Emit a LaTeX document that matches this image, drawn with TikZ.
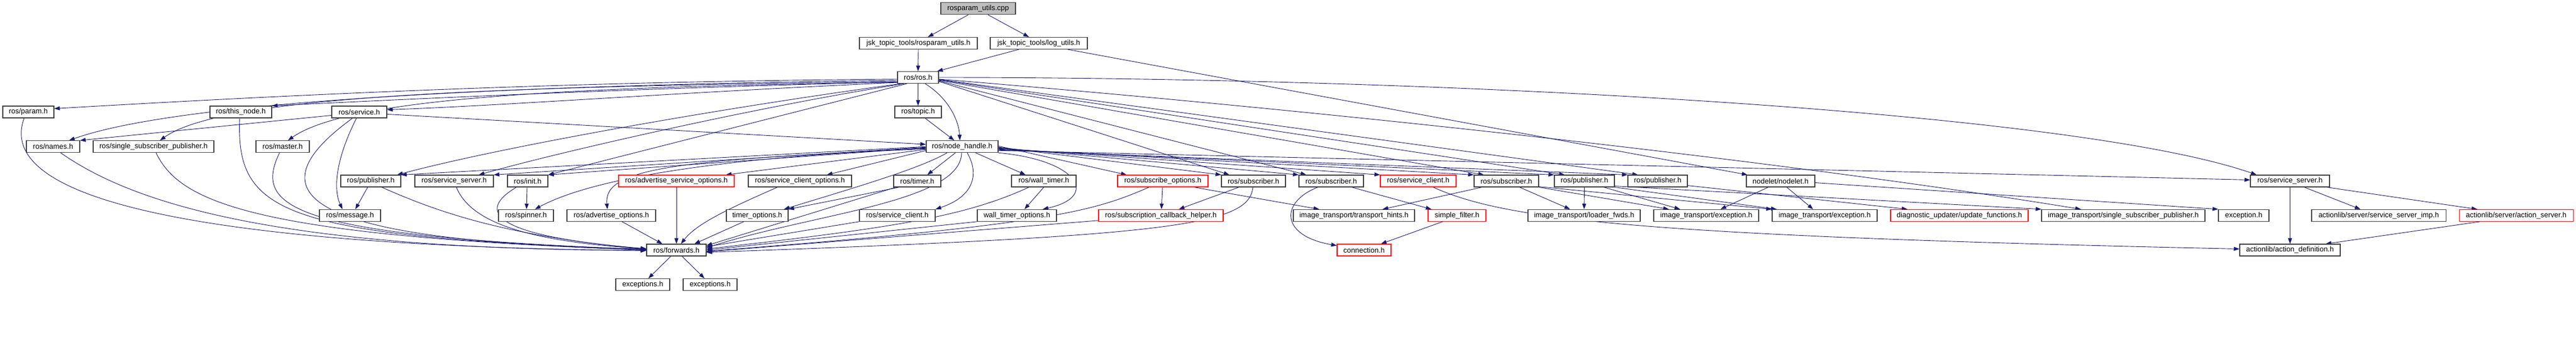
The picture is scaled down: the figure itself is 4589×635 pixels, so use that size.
\documentclass[tikz,border=0pt]{standalone}
\usepackage{fontspec}
\setmainfont{Liberation Sans}
\usetikzlibrary{arrows.meta,backgrounds}
\definecolor{edgec}{HTML}{191970}
\definecolor{boxc}{HTML}{404040}
\definecolor{redc}{HTML}{FF0000}
\definecolor{cppgray}{HTML}{BFBFBF}
\begin{document}
\begin{tikzpicture}[x=1pt,y=-1pt,
  box/.style={draw=boxc, line width=1.1pt, fill=white, minimum height=21pt, inner sep=0pt, font=\fontsize{13}{15}\selectfont, anchor=center},
  redbox/.style={box, draw=redc},
  dep/.style={draw=edgec, line width=0.9pt, -{Triangle[length=10pt,width=7pt]}}]
\useasboundingbox (0,0) rectangle (4589,635);
% row 0-2
\node[box,fill=cppgray,minimum width=133pt] (cpp) at (1742.5,15.3) {rosparam\_utils.cpp};
\node[box,minimum width=210pt] (jru) at (1636,77) {jsk\_topic\_tools/rosparam\_utils.h};
\node[box,minimum width=173pt] (jlu) at (1850.5,77) {jsk\_topic\_tools/log\_utils.h};
\node[box,minimum width=73pt] (ros) at (1635.5,138) {ros/ros.h};
% row 3
\node[box,minimum width=91pt] (param) at (50.5,199.5) {ros/param.h};
\node[box,minimum width=110pt] (thisnode) at (429,199.5) {ros/this\_node.h};
\node[box,minimum width=98pt] (service) at (640,199.5) {ros/service.h};
\node[box,minimum width=83pt] (topic) at (1635.5,199.5) {ros/topic.h};
% row 4
\node[box,minimum width=95pt] (names) at (94.5,261.2) {ros/names.h};
\node[box,minimum width=215pt] (ssp) at (273.5,261.2) {ros/single\_subscriber\_publisher.h};
\node[box,minimum width=95pt] (master) at (503.5,261.2) {ros/master.h};
\node[box,minimum width=128pt] (nh) at (1714,261.2) {ros/node\_handle.h};
% row 5
\node[box,minimum width=107pt] (pub1) at (660.5,322.5) {ros/publisher.h};
\node[box,minimum width=140pt] (ss1) at (809,322.5) {ros/service\_server.h};
\node[box,minimum width=72pt] (init) at (940,322.5) {ros/init.h};
\node[redbox,minimum width=206pt] (aso) at (1205,322.5) {ros/advertise\_service\_options.h};
\node[box,minimum width=184pt] (sco) at (1425,322.5) {ros/service\_client\_options.h};
\node[box,minimum width=84pt] (timer) at (1634,322.5) {ros/timer.h};
\node[box,minimum width=115pt] (wtimer) at (1859.5,322.5) {ros/wall\_timer.h};
\node[redbox,minimum width=161pt] (subopt) at (2071.5,322.5) {ros/subscribe\_options.h};
\node[box,minimum width=114pt] (sub1) at (2233,322.5) {ros/subscriber.h};
\node[box,minimum width=115pt] (sub2) at (2371.5,322.5) {ros/subscriber.h};
\node[redbox,minimum width=135pt] (sc2) at (2526.5,322.5) {ros/service\_client.h};
\node[box,minimum width=115pt] (sub3) at (2683.5,322.5) {ros/subscriber.h};
\node[box,minimum width=107pt] (pub2) at (2822.5,322.5) {ros/publisher.h};
\node[box,minimum width=106pt] (pub3) at (2953,322.5) {ros/publisher.h};
\node[box,minimum width=122pt] (nodelet) at (3172,322.5) {nodelet/nodelet.h};
\node[box,minimum width=141pt] (ss2) at (4079.5,322.5) {ros/service\_server.h};
% row 6
\node[box,minimum width=109pt] (message) at (623.5,383.8) {ros/message.h};
\node[box,minimum width=98pt] (spinner) at (937,383.8) {ros/spinner.h};
\node[box,minimum width=158pt] (advopt) at (1089,383.8) {ros/advertise\_options.h};
\node[box,minimum width=110pt] (topt) at (1349,383.8) {timer\_options.h};
\node[box,minimum width=135pt] (sc1) at (1598.5,383.8) {ros/service\_client.h};
\node[box,minimum width=141pt] (wtopt) at (1811.5,383.8) {wall\_timer\_options.h};
\node[redbox,minimum width=222pt] (sch) at (2068,383.8) {ros/subscription\_callback\_helper.h};
\node[box,minimum width=216pt] (th) at (2412,383.8) {image\_transport/transport\_hints.h};
\node[redbox,minimum width=103pt] (sf) at (2595.5,383.8) {simple\_filter.h};
\node[box,minimum width=200pt] (lf) at (2822,383.8) {image\_transport/loader\_fwds.h};
\node[box,minimum width=187pt] (ie1) at (3039.5,383.8) {image\_transport/exception.h};
\node[box,minimum width=187pt] (ie2) at (3250.5,383.8) {image\_transport/exception.h};
\node[redbox,minimum width=245pt] (uf) at (3490.5,383.8) {diagnostic\_updater/update\_functions.h};
\node[box,minimum width=291pt] (issp) at (3782.5,383.8) {image\_transport/single\_subscriber\_publisher.h};
\node[box,minimum width=90pt] (exc) at (3997,383.8) {exception.h};
\node[box,minimum width=239pt] (ssimp) at (4237.5,383.8) {actionlib/server/service\_server\_imp.h};
\node[redbox,minimum width=203pt] (as) at (4482.5,383.8) {actionlib/server/action\_server.h};
% row 7-8
\node[box,minimum width=106pt] (fwd) at (1205,445.5) {ros/forwards.h};
\node[redbox,minimum width=96pt] (conn) at (2430,445.5) {connection.h};
\node[box,minimum width=179pt] (ad) at (4079.5,445.5) {actionlib/action\_definition.h};
\node[box,minimum width=96pt] (exs1) at (1145,507) {exceptions.h};
\node[box,minimum width=96pt] (exs2) at (1265,507) {exceptions.h};

\begin{pgfonlayer}{background}
% top
\draw[dep] ([xshift=-17.5pt]cpp.south) -- ([xshift=17pt]jru.north);
\draw[dep] ([xshift=17.5pt]cpp.south) -- ([xshift=-17.5pt]jlu.north);
\draw[dep] (jru.south) -- (ros.north);
\draw[dep] ([xshift=-35.5pt]jlu.south) -- ([xshift=34pt]ros.north);
\draw[dep] ([xshift=51.5pt]jlu.south) -- ([xshift=-59pt]nodelet.north);
% ros -> left
\draw[dep] ([yshift=-3pt]ros.west) .. controls (1000,145) and (500,170) .. ([yshift=6pt]param.east);
\draw[dep] ([yshift=-5pt]ros.west) .. controls (900,152) and (320,180) .. ([xshift=28.5pt]names.north);
\draw[dep] ([yshift=-7pt]ros.west) .. controls (900,155) and (400,168) .. ([xshift=11.5pt]ssp.north);
\draw[dep] ([yshift=-8pt]ros.west) .. controls (1100,158) and (700,178) .. (thisnode.north east);
\draw[dep] ([yshift=-9pt]ros.west) .. controls (1200,165) and (900,188) .. ([yshift=4pt]service.east);
\draw[dep] ([yshift=-8.5pt]ros.west) .. controls (1000,155) and (620,175) .. ([xshift=9.5pt]master.north);
\draw[dep] ([xshift=-30pt]ros.south) .. controls (1300,190) and (900,260) .. ([xshift=47pt]pub1.north);
\draw[dep] ([xshift=-25pt]ros.south) .. controls (1350,190) and (1000,270) .. ([xshift=44pt]ss1.north);
\draw[dep] ([xshift=-20pt]ros.south) -- (init.north east);
\draw[dep] (ros.south) -- (topic.north);
\draw[dep] ([xshift=12.5pt]ros.south) .. controls (1690,175) and (1708,215) .. ([xshift=-4pt]nh.north);
\draw[dep] ([xshift=12.5pt]topic.south) -- ([xshift=-14pt]nh.north);
% ros -> right
\draw[dep] (ros.east) .. controls (2600,138) and (3700,200) .. ([xshift=-59.5pt]ss2.north);
\draw[dep] ([yshift=-3pt]ros.east) .. controls (2400,200) and (3200,290) .. ([xshift=-75.5pt]issp.north);
\draw[dep] ([yshift=-7pt]ros.east) -- ([xshift=-43pt]sub1.north);
\draw[dep] ([yshift=-6pt]ros.east) -- ([xshift=-44.5pt]sub2.north);
\draw[dep] ([yshift=-5pt]ros.east) -- ([xshift=-40pt]sub3.north);
\draw[dep] ([yshift=-4pt]ros.east) -- ([xshift=-35pt]pub2.north);
\draw[dep] ([yshift=-3.5pt]ros.east) -- ([xshift=-35pt]pub3.north);
% node_handle -> left
\draw[dep] (nh.west) -- (pub1.north east);
\draw[dep] ([yshift=-1pt]nh.west) -- (ss1.north east);
\draw[dep] ([yshift=-2pt]nh.west) -- (init.north east);
\draw[dep] ([yshift=-3pt]nh.west) .. controls (1300,280) and (1060,315) .. ([xshift=16pt]spinner.north);
\draw[dep] ([yshift=-4pt]nh.west) .. controls (1200,285) and (1075,300) .. ([xshift=-7pt]advopt.north);
\draw[dep] ([yshift=-5pt]nh.west) -- ([xshift=88pt]aso.north);
\draw[dep] ([yshift=-7pt]nh.west) -- ([xshift=48pt]sco.north);
\draw[dep] ([xshift=-27pt]nh.south) .. controls (1640,300) and (1520,335) .. ([xshift=-8pt]topt.north east);
% node_handle -> below
\draw[dep] ([xshift=-12pt]nh.south) -- ([xshift=18pt]timer.north);
\draw[dep] ([xshift=24pt]nh.south) -- ([xshift=-32.5pt]wtimer.north);
\draw[dep] ([xshift=9pt]nh.south) .. controls (1745,310) and (1735,350) .. (sc1.north east);
\draw[dep] ([xshift=-1pt]nh.south) .. controls (1712,360) and (1450,380) .. ([yshift=4pt]fwd.east);
\draw[dep] (nh.south east) .. controls (1920,285) and (1960,350) .. ([xshift=46pt]wtopt.north);
% node_handle -> right
\draw[dep] ([yshift=1pt]nh.east) -- ([xshift=-64.5pt]subopt.north);
\draw[dep] ([yshift=-1pt]nh.east) -- (sub1.north west);
\draw[dep] ([yshift=-2pt]nh.east) -- (sub2.north west);
\draw[dep] ([yshift=-3pt]nh.east) -- (sc2.north west);
\draw[dep] ([yshift=-4pt]nh.east) -- (sub3.north west);
\draw[dep] ([yshift=-5pt]nh.east) -- (pub2.north west);
\draw[dep] ([yshift=-6pt]nh.east) -- (pub3.north west);
\draw[dep] ([yshift=-7pt]nh.east) -- ([yshift=2pt]ss2.west);
% service
\draw[dep] ([xshift=-5pt]service.south) .. controls (595,290) and (595,340) .. ([xshift=-13.5pt]message.north);
\draw[dep] ([xshift=-12pt]service.south) .. controls (450,340) and (520,430) .. ([yshift=2pt]fwd.west);
\draw[dep] ([yshift=-4pt]service.east) -- ([yshift=4pt]nh.west);
\draw[dep] ([yshift=-6pt]service.west) -- (names.north east);
% left side -> forwards
\draw[dep] ([xshift=-7.5pt]param.south) .. controls (-20,380) and (500,440) .. ([yshift=-1pt]fwd.west);
\draw[dep] ([xshift=13.5pt]names.south) .. controls (220,350) and (450,445) .. ([yshift=-0.5pt]fwd.west);
\draw[dep] ([xshift=4.5pt]ssp.south) .. controls (320,360) and (450,420) .. (fwd.west);
\draw[dep] ([xshift=-2pt]thisnode.south) .. controls (420,380) and (500,420) .. ([yshift=0.5pt]fwd.west);
\draw[dep] ([xshift=-5.5pt]master.south) .. controls (450,370) and (520,420) .. ([yshift=1pt]fwd.west);
\draw[dep] ([xshift=-5.5pt]pub1.south) -- ([xshift=9.5pt]message.north);
\draw[dep] ([xshift=19.5pt]pub1.south) .. controls (780,378) and (900,420) .. ([yshift=1.5pt]fwd.west);
\draw[dep] ([xshift=4pt]ss1.south) .. controls (840,400) and (950,430) .. ([yshift=2pt]fwd.west);
\draw[dep] ([xshift=-20pt]init.south) .. controls (850,375) and (870,420) .. ([yshift=2.5pt]fwd.west);
\draw[dep] ([xshift=-1pt]init.south) -- ([xshift=1pt]spinner.north);
\draw[dep] ([xshift=19pt]advopt.south) -- ([xshift=-25pt]fwd.north);
\draw[dep] (aso.south) -- (fwd.north);
\draw[dep] ([xshift=-40pt]sco.south) .. controls (1290,375) and (1240,400) .. ([xshift=8pt]fwd.north);
\draw[dep] ([xshift=-24pt]topt.south) -- ([xshift=32pt]fwd.north);
% right side -> forwards
\draw[dep] ([xshift=-32pt]timer.south) -- (topt.north east);
\draw[dep] ([xshift=-38pt]timer.south) -- ([yshift=8pt]fwd.east);
\draw[dep] (sc1.south west) -- ([yshift=6pt]fwd.east);
\draw[dep] ([xshift=-26.5pt]wtimer.south) .. controls (1720,385) and (1600,405) .. ([yshift=2pt]fwd.east);
\draw[dep] (wtimer.south) -- ([xshift=13.5pt]wtopt.north);
\draw[dep] (wtopt.south west) -- (fwd.east);
\draw[dep] ([xshift=-1pt]sub1.south) .. controls (2225,400) and (2100,420) .. ([yshift=-4pt]fwd.east);
\draw[dep] ([xshift=-24.5pt]subopt.south) .. controls (1950,375) and (1880,400) .. ([yshift=-2pt]fwd.east);
\draw[dep] ([yshift=2pt]sch.south west) -- ([yshift=-3pt]fwd.east);
\draw[dep] ([xshift=-10pt]fwd.south) -- ([xshift=10pt]exs1.north);
\draw[dep] ([xshift=10pt]fwd.south) -- ([xshift=-10pt]exs2.north);
% subscribe side
\draw[dep] ([xshift=-0.5pt]subopt.south) -- ([xshift=1pt]sch.north);
\draw[dep] ([xshift=-26pt]sub1.south) -- ([xshift=32pt]sch.north);
\draw[dep] ([xshift=55.5pt]subopt.south) -- ([xshift=-62pt]th.north);
\draw[dep] ([xshift=-24pt]sub2.south) .. controls (2280,360) and (2280,420) .. ([yshift=8pt]conn.west);
\draw[dep] ([xshift=36.5pt]sub2.south) -- ([xshift=-45.5pt]sf.north);
\draw[dep] ([xshift=-25.5pt]sf.south) -- ([xshift=30pt]conn.north);
\draw[dep] ([xshift=-43.5pt]sub3.south) -- ([xshift=51pt]th.north);
\draw[dep] ([xshift=26.5pt]sc2.south) .. controls (2680,390) and (2900,420) .. ([yshift=2pt]ad.west);
\draw[dep] ([xshift=23.5pt]sub3.south) -- ([xshift=-25pt]lf.north);
\draw[dep] (sub3.south east) -- ([xshift=-66.5pt]ie1.north);
\draw[dep] ([yshift=1pt]sub3.south east) -- (ie2.north west);
\draw[dep] (pub2.south) -- (lf.north);
\draw[dep] ([xshift=34.5pt]pub2.south) -- ([xshift=-46.5pt]ie1.north);
\draw[dep] (pub2.south east) -- ([xshift=-85.5pt]ie2.north);
\draw[dep] ([yshift=2pt]pub2.south east) -- (issp.north west);
\draw[dep] ([yshift=3pt]pub3.south east) -- ([xshift=-92.5pt]uf.north);
\draw[dep] ([xshift=-22pt]nodelet.south) -- ([xshift=25.5pt]ie1.north);
\draw[dep] ([xshift=11pt]nodelet.south) -- ([xshift=-20.5pt]ie2.north);
\draw[dep] ([yshift=-3pt]nodelet.east) -- (exc.north west);
% actionlib
\draw[dep] (ss2.south) -- (ad.north);
\draw[dep] ([xshift=25.5pt]ss2.south) -- ([xshift=-32.5pt]ssimp.north);
\draw[dep] ([xshift=65.5pt]ss2.south) -- ([xshift=-69.5pt]as.north);
\draw[dep] ([xshift=-64.5pt]as.south) -- ([xshift=63.5pt]ad.north);
\end{pgfonlayer}
\end{tikzpicture}
\end{document}
